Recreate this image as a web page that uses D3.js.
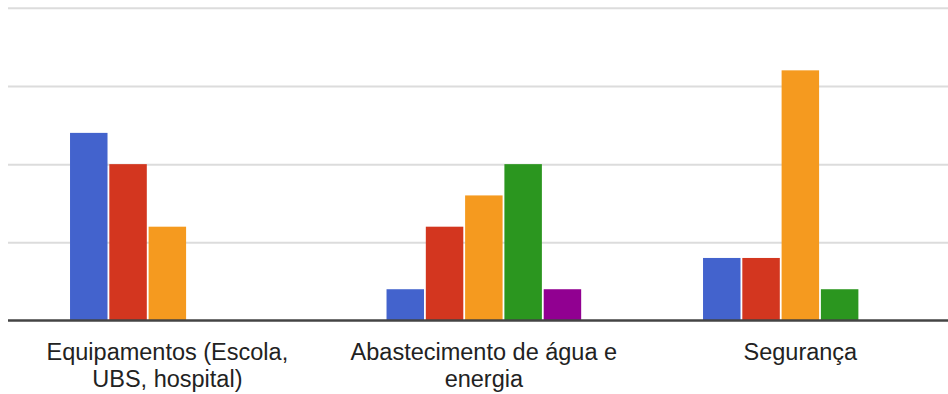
<!DOCTYPE html>
<html>
<head>
<meta charset="utf-8">
<script src="https://cdn.jsdelivr.net/npm/d3@7"></script>
<style>
  html, body { margin: 0; padding: 0; background: #fff; }
  svg { display: block; }
</style>
</head>
<body>
<svg id="chart" width="948" height="394"></svg>
<script>
const categories = ["Equipamentos (Escola, UBS, hospital)", "Abastecimento de água e energia", "Segurança"];
const seriesNames = ["s1", "s2", "s3", "s4", "s5"];
const seriesColors = ["#4363cd", "#d3361f", "#f59a1f", "#2b961f", "#910091"];
const s1 = [6, 1, 2];
const s2 = [5, 3, 2];
const s3 = [3, 4, 8];
const s4 = [0, 5, 1];
const s5 = [0, 1, 0];
const seriesValues = [s1, s2, s3, s4, s5];
const yTicks = [0, 2.5, 5, 7.5, 10];

const svg = d3.select("#chart");
const W = 948, H = 394;

const y = d3.scaleLinear().domain([0, 10]).range([320.5, 7.8]);
const x0 = d3.scaleBand().domain(categories).range([9.1, 958.6])
  .paddingInner(0.385).paddingOuter(0.1925);
const x1 = d3.scaleBand().domain(seriesNames).range([0, x0.bandwidth()])
  .paddingInner(0.046).paddingOuter(0);

// gridlines
const yAxis = d3.axisLeft(y).tickValues(yTicks.slice(1)).tickSize(-(W - 8)).tickFormat("");
const g = svg.append("g").attr("transform", "translate(8,0)").call(yAxis);
g.select(".domain").remove();
g.selectAll(".tick line").attr("stroke", "#dcdcdc").attr("stroke-width", 2);

// bars
const data = [];
categories.forEach((c, i) => {
  seriesNames.forEach((s, j) => {
    if (seriesValues[j][i] > 0) data.push({ c, s, v: seriesValues[j][i], color: seriesColors[j] });
  });
});
svg.append("g").selectAll("rect").data(data).join("rect")
  .attr("x", d => x0(d.c) + x1(d.s))
  .attr("y", d => y(d.v))
  .attr("width", x1.bandwidth())
  .attr("height", d => y(0) - y(d.v))
  .attr("fill", d => d.color);

// baseline
svg.append("line")
  .attr("x1", 8).attr("x2", W)
  .attr("y1", y(0)).attr("y2", y(0))
  .attr("stroke", "#444").attr("stroke-width", 2.5);

// category labels (x axis)
const xAxis = d3.axisBottom(x0).tickSize(0).tickPadding(0);
const xg = svg.append("g").call(xAxis);
xg.select(".domain").remove();
xg.selectAll(".tick text").each(function(d) {
  const t = d3.select(this);
  t.text(null)
    .attr("y", 0).attr("dy", null)
    .attr("fill", "#222")
    .attr("font-family", "Arial, 'Liberation Sans', sans-serif")
    .attr("font-size", "23.5px")
    .attr("text-anchor", "middle");
  const words = d.split(" ");
  let lines = [], cur = [];
  const tmp = t.append("tspan");
  words.forEach(w => {
    const test = cur.concat([w]).join(" ");
    tmp.text(test);
    if (tmp.node().getComputedTextLength() > 295 && cur.length) {
      lines.push(cur.join(" "));
      cur = [w];
    } else cur.push(w);
  });
  lines.push(cur.join(" "));
  tmp.remove();
  lines.forEach((ln, k) => {
    t.append("tspan").attr("x", 0).attr("y", 359.5 + k * 27).text(ln);
  });
});
</script>
</body>
</html>
